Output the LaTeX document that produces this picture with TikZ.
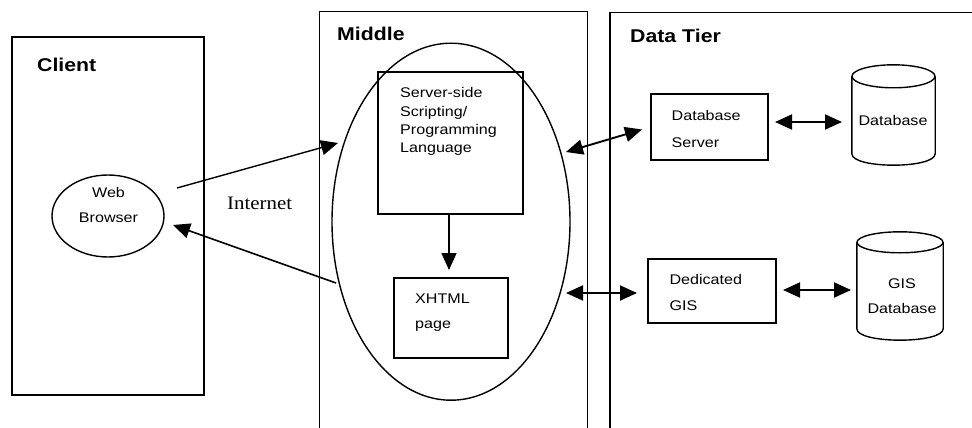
\documentclass[tikz,border=0pt]{standalone}
\usepackage{fontspec}
\usetikzlibrary{arrows.meta,shapes.geometric,calc}
\newfontfamily\lblfont{Liberation Sans}[FakeStretch=1.15]
\newfontfamily\netfont{Liberation Serif}[FakeStretch=1.1]

\begin{document}
\begin{tikzpicture}[x=1pt,y=-1pt,
  tierline/.style={line width=1.4pt},
  title/.style={font=\lblfont\bfseries\fontsize{18.5}{20}\selectfont, anchor=base west, inner sep=0pt},
  lbl/.style={font=\lblfont\fontsize{14}{18}\selectfont, inner sep=0pt},
  ring/.style={draw, ellipse, line width=1.4pt, inner sep=0pt},
  cylbox/.style={inner sep=0pt},
  cylline/.style={line width=1.4pt},
  arr/.style={line width=1.6pt, -{Triangle[length=17pt,width=15pt]}},
  darr/.style={line width=1.9pt, {Triangle[length=17pt,width=15pt]}-{Triangle[length=17pt,width=15pt]}},
]
\useasboundingbox (0,0) rectangle (972,428);

% ---- tiers ----
\node[draw, tierline, inner sep=0pt, minimum width=192pt, minimum height=358pt] (client) at (108,216) {};
\draw[tierline] (319.3,428) -- (319.3,11.7) -- (587.3,11.7) -- (587.3,428);
\draw[tierline] (610,428) -- (610,12.7) -- (972,12.7);

\node[title] (tclient) at (37,72) {Client};
\node[title] (tmiddle) at (337,40.5) {Middle};
\node[title] (tdata) at (630,43) {Data Tier};

% ---- client side ----
\node[ring, minimum width=112pt, minimum height=82pt] (browser) at (108,216) {};
% multi-line labels are placed by the baseline of their last line
\node[lbl, align=center, anchor=base, font=\lblfont\fontsize{14}{25}\selectfont] (browsertxt) at (108.5,222) {Web\\Browser};

\node[font=\netfont\fontsize{19}{20}\selectfont, anchor=base west, inner sep=0pt] (inet) at (227,209) {Internet};

% ---- middle tier ----
\node[ring, minimum width=238pt, minimum height=357pt] (mid) at (451,221.7) {};
\node[draw, line width=1.4pt, inner sep=0pt, minimum width=145pt, minimum height=142pt] (ssl) at (450.5,143) {};
\node[lbl, align=left, anchor=base west, font=\lblfont\fontsize{14}{18.3}\selectfont] (ssltxt) at (400,152.6)
  {Server-side\\Scripting/\\Programming\\Language};
\node[draw, line width=1.4pt, inner sep=0pt, minimum width=114pt, minimum height=80pt] (xhtml) at (451,318) {};
\node[lbl, align=left, anchor=base west, font=\lblfont\fontsize{14}{25}\selectfont] (xhtmltxt) at (415,328) {XHTML\\page};

% ---- data tier ----
\node[draw, line width=1.4pt, inner sep=0pt, minimum width=117pt, minimum height=66pt] (dbs) at (709.5,127) {};
\node[lbl, align=left, anchor=base west, font=\lblfont\fontsize{14}{26.5}\selectfont] (dbstxt) at (671.5,147.2) {Database\\Server};
\node[draw, line width=1.4pt, inner sep=0pt, minimum width=128pt, minimum height=64pt] (gis) at (712,291) {};
\node[lbl, align=left, anchor=base west, font=\lblfont\fontsize{14}{26.5}\selectfont] (gistxt) at (669.3,310.5) {Dedicated\\GIS};

% database cylinders: an invisible frame node and its outline
\node[cylbox, minimum width=83pt, minimum height=100pt] (db) at (893.5,115) {};
\draw[cylline] ($(db.north)+(0,11.5)$) ellipse [x radius=41.5pt, y radius=11.5pt];
\draw[cylline] ($(db.north west)+(0,11.5)$) -- ($(db.south west)+(0,-11.5)$)
  .. controls ($(db.south west)+(0,3.8)$) and ($(db.south east)+(0,3.8)$) .. ($(db.south east)+(0,-11.5)$)
  -- ($(db.north east)+(0,11.5)$);
\node[lbl, anchor=base] (dbtxt) at (893,125) {Database};

\node[cylbox, minimum width=86pt, minimum height=108pt] (gisdb) at (900,286) {};
\draw[cylline] ($(gisdb.north)+(0,10.5)$) ellipse [x radius=43pt, y radius=10.5pt];
\draw[cylline] ($(gisdb.north west)+(0,10.5)$) -- ($(gisdb.south west)+(0,-11.5)$)
  .. controls ($(gisdb.south west)+(0,3.8)$) and ($(gisdb.south east)+(0,3.8)$) .. ($(gisdb.south east)+(0,-11.5)$)
  -- ($(gisdb.north east)+(0,10.5)$);
\node[lbl, align=center, anchor=base, font=\lblfont\fontsize{14}{25}\selectfont] (gisdbtxt) at (902,313) {GIS\\Database};

% ---- connector end points ----
\coordinate (req0) at (177,188);
\coordinate (req1) at (338,143);
\coordinate (resp0) at (336,283);
\coordinate (resp1) at (173,225);
\coordinate (pgin) at (449,270);
\coordinate (midr1) at (566,152);
\coordinate (dbsl) at (642,129.5);
\coordinate (midr2) at (566,293);
\coordinate (gisl) at (637,293);
\coordinate (dbsr) at (775,122);
\coordinate (dbl) at (842,122);
\coordinate (gisr) at (783,290);
\coordinate (gisdbl) at (851,290);

% ---- connectors ----
\draw[arr, line width=1.4pt] (req0) -- (req1);
\draw[arr] (resp0) -- (resp1);
\draw[arr] (ssl.south -| pgin) -- (pgin);
\draw[darr] (midr1) -- (dbsl);
\draw[darr] (midr2) -- (gisl);
\draw[darr] (dbsr) -- (dbl);
\draw[darr] (gisr) -- (gisdbl);
\end{tikzpicture}
\end{document}
